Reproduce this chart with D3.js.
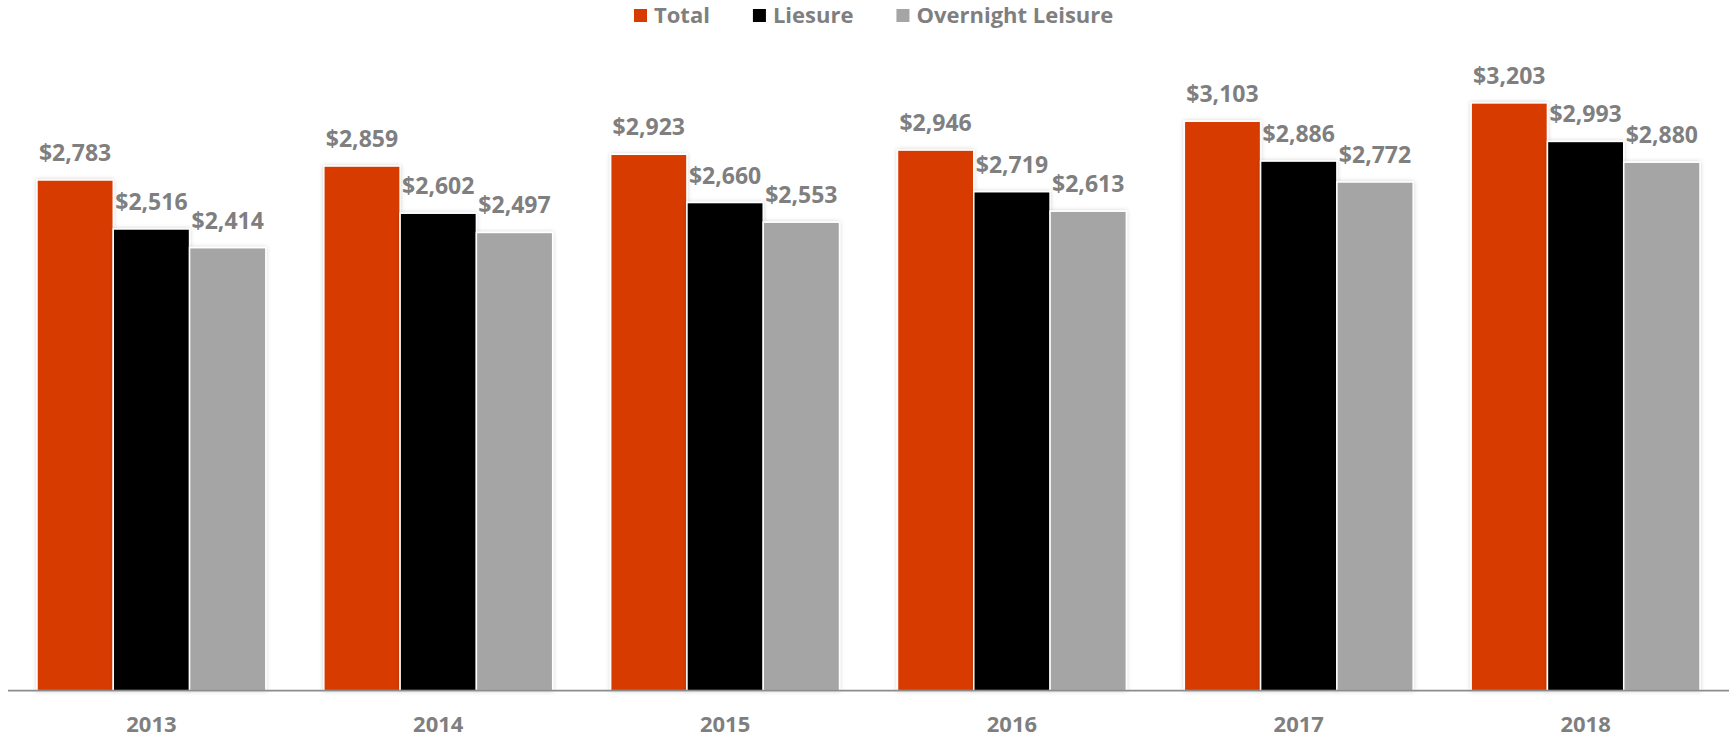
<!DOCTYPE html>
<html>
<head>
<meta charset="utf-8">
<script src="https://cdn.jsdelivr.net/npm/d3@7"></script>
<style>
  body { margin: 0; background: #fff; }
  svg { display: block; font-family: 'Open Sans', sans-serif; font-weight: 700; }
</style>
</head>
<body>
<div id="chart"></div>
<script>
const years = ['2013', '2014', '2015', '2016', '2017', '2018']
const seriesNames = ['Total', 'Liesure', 'Overnight Leisure']
const total = [2783, 2859, 2923, 2946, 3103, 3203]
const liesure = [2516, 2602, 2660, 2719, 2886, 2993]
const overnight = [2414, 2497, 2553, 2613, 2772, 2880]
const colors = ['#D83B01', '#000000', '#A5A5A5']

const width = 1735
const height = 738
const plotLeft = 8
const plotRight = 1729
const baseline = 690.7
const plotTop = 48.4

const seriesValues = [total, liesure, overnight]
const rows = years.map((yr, i) => ({
  year: yr,
  values: seriesNames.map((s, j) => ({ key: s, value: seriesValues[j][i], color: colors[j] })),
}))

const svg = d3
  .select('#chart')
  .append('svg')
  .attr('width', width)
  .attr('height', height)

const defs = svg.append('defs')
const shadow = defs.append('filter').attr('id', 'shadow').attr('x', '-20%').attr('y', '-5%').attr('width', '140%').attr('height', '110%')
shadow.append('feDropShadow').attr('dx', 0).attr('dy', 0).attr('stdDeviation', 2).attr('flood-color', '#000').attr('flood-opacity', 0.18)

const x0 = d3.scaleBand().domain(years).range([plotLeft, plotRight]).paddingInner(58 / 287).paddingOuter(29 / 287)
const x1 = d3.scaleBand().domain(seriesNames).range([0, x0.bandwidth()])
const y = d3.scaleLinear().domain([0, 3500]).range([baseline, plotTop])

const groups = svg
  .selectAll('g.year')
  .data(rows)
  .join('g')
  .attr('class', 'year')
  .attr('transform', d => `translate(${x0(d.year)},0)`)

groups
  .selectAll('rect')
  .data(d => d.values)
  .join('rect')
  .attr('x', d => x1(d.key))
  .attr('y', d => y(d.value))
  .attr('width', x1.bandwidth())
  .attr('height', d => baseline - y(d.value))
  .attr('fill', d => d.color)
  .attr('stroke', '#fff')
  .attr('stroke-width', 1.5)
  .attr('filter', 'url(#shadow)')

groups
  .selectAll('text.label')
  .data(d => d.values)
  .join('text')
  .attr('class', 'label')
  .attr('x', d => x1(d.key) + x1.bandwidth() / 2)
  .attr('y', d => y(d.value) - 19)
  .attr('text-anchor', 'middle')
  .attr('font-size', '23px')
  .attr('fill', '#7F7F7F')
  .text(d => '$' + d3.format(',')(d.value))

// axis line
svg
  .append('line')
  .attr('x1', plotLeft)
  .attr('x2', plotRight)
  .attr('y1', baseline)
  .attr('y2', baseline)
  .attr('stroke', '#8C8C8C')
  .attr('stroke-width', 1.8)

// year labels
const xAxis = d3.axisBottom(x0).tickSize(0).tickPadding(0)
const axisG = svg.append('g').attr('transform', `translate(0,${baseline})`).call(xAxis)
axisG.select('.domain').remove()
axisG
  .selectAll('text')
  .attr('font-family', 'Open Sans, sans-serif')
  .attr('font-weight', 700)
  .attr('font-size', '22px')
  .attr('fill', '#7F7F7F')
  .attr('dy', null)
  .attr('y', 41)

// legend
const legend = svg.append('g').attr('class', 'legend')
let lx = 634
seriesNames.forEach((s, i) => {
  legend
    .append('rect')
    .attr('x', lx)
    .attr('y', 9)
    .attr('width', 13)
    .attr('height', 13)
    .attr('fill', colors[i])
  const t = legend
    .append('text')
    .attr('x', lx + 20)
    .attr('y', 23)
    .attr('font-size', '22px')
    .attr('fill', '#7F7F7F')
    .text(s)
  lx += 20 + t.node().getComputedTextLength() + 43
})
</script>
</body>
</html>
